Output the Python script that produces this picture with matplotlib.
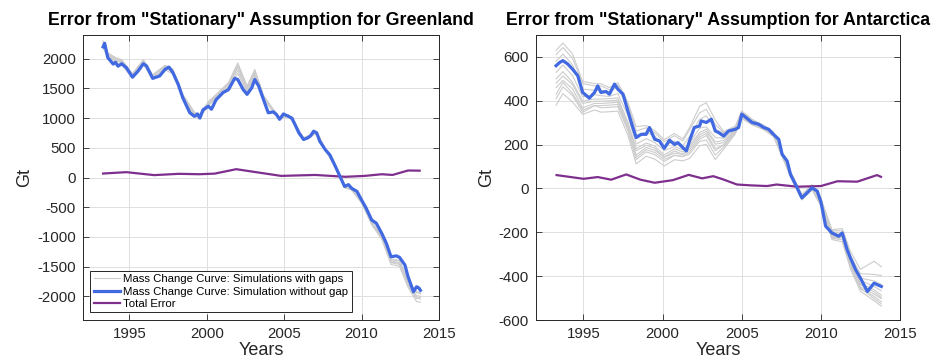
import numpy as np
import matplotlib
matplotlib.use("Agg")
import matplotlib.pyplot as plt

plt.rcParams['font.family'] = ['Liberation Sans', 'DejaVu Sans']
plt.rcParams['axes.unicode_minus'] = False

# ---------------- Greenland ----------------
gl_years = [1993.30, 1993.40, 1993.60, 1993.95, 1994.10, 1994.26, 1994.50, 1994.80,
            1995.20, 1995.55, 1995.90, 1996.10, 1996.50, 1996.95, 1997.30, 1997.55,
            1997.80, 1998.15, 1998.45, 1998.90, 1999.20, 1999.40, 1999.55, 1999.75,
            2000.10, 2000.30, 2000.60, 2001.05, 2001.40, 2001.80, 2002.00, 2002.35,
            2002.60, 2002.90, 2003.10, 2003.35, 2003.65, 2003.97, 2004.30, 2004.50,
            2004.70, 2004.95, 2005.27, 2005.50, 2005.70, 2005.95, 2006.25, 2006.50,
            2006.70, 2006.90, 2007.10, 2007.30, 2007.65, 2007.95, 2008.30, 2008.60,
            2008.90, 2009.15, 2009.35, 2009.70, 2010.00, 2010.30, 2010.65, 2010.95,
            2011.30, 2011.60, 2011.90, 2012.25, 2012.45, 2012.80, 2013.00, 2013.35,
            2013.55, 2013.70, 2013.80]
gl_mass = [2200, 2260, 2020, 1910, 1940, 1875, 1915, 1850,
           1690, 1790, 1915, 1880, 1670, 1710, 1820, 1860,
           1770, 1570, 1340, 1090, 1030, 1070, 1000, 1140,
           1200, 1150, 1310, 1430, 1480, 1670, 1650, 1480,
           1400, 1510, 1650, 1540, 1320, 1090, 1105, 1060,
           980, 1070, 1030, 1000, 890, 750, 640, 665,
           700, 780, 750, 610, 470, 380, 190, 20,
           -150, -120, -180, -235, -380, -520, -715, -770,
           -940, -1110, -1335, -1320, -1345, -1475, -1670, -1925,
           -1840, -1860, -1900]
# deviations of the gap simulations, read at every second point of the curve
gl_sim_dev = [
    [80, 60, 70, 60, 50, 60, 50, 60, 50, 40, 50, 40, 60, 70, 100, 250, 120, 150, 60, 30, 30, 20, 20, 20, 20, 10, 10, 0, -20, -20, -40, -60, -80, -100, -120, -150, -200, -120],
    [40, 40, 40, 30, 30, 40, 30, 40, 30, 30, 30, 30, 40, 50, 80, 200, 90, 110, 50, 20, 20, 20, 10, 10, 10, 10, 0, 0, -10, -20, -30, -40, -60, -70, -90, -120, -150, -100],
    [20, 20, 20, 20, 10, 20, 10, 20, 10, 20, 20, 20, 20, 30, 50, 150, 60, 80, 30, 10, 10, 10, 0, 10, 0, 0, 0, -10, -10, -10, -20, -30, -40, -50, -60, -80, -100, -60],
    [100, 80, 80, 70, 60, 70, 60, 70, 60, 60, 70, 60, 80, 90, 120, 280, 140, 170, 70, 40, 30, 30, 20, 30, 20, 20, 10, 10, -10, -30, -50, -80, -100, -130, -150, -180, -250, -200],
    [-20, -10, -10, -20, -20, -10, -20, -10, -20, -10, 0, 0, 10, 20, 30, 100, 40, 50, 10, 0, 0, 0, -10, 0, -10, -10, -10, -10, -20, -20, -20, -30, -40, -40, -50, -60, -80, -50],
    [60, 50, 50, 50, 40, 50, 40, 50, 40, 50, 40, 50, 50, 60, 90, 220, 100, 130, 40, 20, 20, 10, 10, 10, 10, 0, 0, 0, -20, -30, -40, -50, -70, -90, -100, -140, -180, -150],
]
gl_err_years = [1993.3, 1994.8, 1996.6, 1998.2, 1999.5, 2000.5, 2001.9, 2003.1, 2004.8,
                2007.0, 2008.95, 2010.2, 2011.3, 2012.0, 2013.0, 2013.75]
gl_err = [67, 90, 40, 62, 55, 65, 140, 93, 27, 43, 12, 27, 55, 43, 118, 115]

# ---------------- Antarctica ----------------
an_years = [1993.27, 1993.50, 1993.70, 1994.00, 1994.30, 1994.64, 1994.95, 1995.37,
            1995.70, 1995.90, 1996.10, 1996.43, 1996.64, 1996.96, 1997.17, 1997.50,
            1997.80, 1998.12, 1998.33, 1998.65, 1998.96, 1999.17, 1999.50, 1999.80,
            2000.10, 2000.44, 2000.75, 2000.97, 2001.28, 2001.50, 2001.70, 2002.00,
            2002.34, 2002.44, 2002.76, 2003.08, 2003.33, 2003.54, 2003.86, 2004.17,
            2004.60, 2004.80, 2005.00, 2005.33, 2005.65, 2006.07, 2006.39, 2006.70,
            2007.00, 2007.34, 2007.55, 2007.87, 2008.08, 2008.40, 2008.80, 2009.13,
            2009.44, 2009.77, 2010.00, 2010.30, 2010.70, 2011.13, 2011.35, 2011.66,
            2011.87, 2012.20, 2012.50, 2012.94, 2013.36, 2013.60, 2013.82]
an_mass = [560, 575, 583, 568, 545, 514, 438, 412,
           438, 468, 438, 442, 430, 476, 453, 430,
           354, 278, 232, 247, 247, 278, 224, 217,
           183, 220, 201, 209, 186, 171, 217, 278,
           285, 308, 301, 316, 262, 255, 239, 262,
           270, 278, 339, 320, 301, 293, 278, 270,
           247, 224, 156, 125, 64, 18, -43, -20,
           3, -12, -60, -172, -203, -218, -203, -279,
           -317, -371, -409, -470, -432, -440, -447]
an_sim_dev = [
    [-180, -150, -150, -100, -80, -90, -80, -100, -110, -120, -100, -90, -80, -70, -60, -80, -90, -100, -130, -60, -20, -20, -10, -10, -10, -10, -10, -10, -10, -20, -30, -40, -50, -60, -80, -90],
    [-150, -120, -120, -90, -60, -70, -60, -80, -90, -100, -80, -70, -60, -50, -40, -60, -70, -80, -110, -50, -15, -15, -10, -5, -5, -5, -10, -5, -5, -15, -25, -30, -40, -50, -60, -70],
    [-100, -90, -90, -70, -50, -50, -40, -60, -70, -80, -60, -50, -40, -40, -30, -40, -50, -50, -80, -40, -10, -10, -5, -5, 0, 0, -5, 0, 0, -10, -20, -20, -30, -40, -50, -55],
    [-60, -50, -60, -40, -30, -30, -20, -40, -50, -50, -40, -30, -30, -20, -20, -20, -30, -30, -50, -20, -5, -5, 0, 0, 0, 0, 0, 0, 0, -5, -10, -15, -20, -25, -30, -40],
    [-30, -20, -30, -20, -10, -15, -10, -20, -20, -30, -20, -15, -10, -10, -10, -10, -10, -20, -30, -10, 0, 0, 0, 0, 5, 0, 0, 5, 0, 0, -5, -5, -10, -10, -15, -20],
    [20, 30, 20, 15, 10, 10, 10, 10, 10, 10, 10, 15, 10, 15, 10, 20, 30, 30, 10, 10, 5, 5, 5, 5, 5, 5, 5, 5, 5, 5, 5, 0, 0, 0, 10, 10],
    [50, 60, 50, 40, 30, 30, 20, 20, 30, 30, 30, 30, 30, 40, 30, 50, 60, 60, 30, 15, 10, 10, 10, 10, 10, 10, 10, 10, 10, 10, 10, 10, 10, 20, 40, 50],
    [70, 80, 70, 50, 40, 40, 30, 30, 40, 50, 40, 40, 40, 50, 40, 60, 90, 90, 50, 20, 15, 15, 15, 10, 10, 10, 15, 15, 15, 15, 15, 20, 30, 40, 100, 90],
    [-130, -100, -110, -80, -60, -60, -50, -70, -80, -90, -70, -60, -50, -50, -40, -50, -60, -60, -90, -40, -10, -10, -10, -5, -5, -5, -5, -5, -5, -10, -20, -30, -35, -45, -70, -80],
    [-80, -70, -70, -50, -40, -40, -30, -50, -60, -60, -50, -40, -40, -30, -30, -30, -40, -40, -60, -30, -5, -5, -5, 0, 0, 0, 0, 0, 0, -5, -15, -20, -25, -30, -40, -50],
]
an_err_years = [1993.3, 1995.0, 1995.9, 1996.75, 1997.7, 1998.6, 1999.5, 2000.65, 2001.65,
                2002.5, 2003.2, 2003.8, 2004.7, 2005.6, 2006.6, 2007.2, 2008.5, 2010.0,
                2011.05, 2012.3, 2013.55, 2013.8]
an_err = [61, 44, 52, 40, 64, 40, 26, 38, 62, 46, 56, 42, 18, 14, 11, 18, 8, 11, 33, 31, 61, 53]

titles = ['Error from "Stationary" Assumption for Greenland',
          'Error from "Stationary" Assumption for Antarctica']
legend_labels = ['Mass Change Curve: Simulations with gaps',
                 'Mass Change Curve: Simulation without gap',
                 'Total Error']

GRAY = (0.8, 0.8, 0.8)
BLUE = '#4169E1'
PURPLE = '#7E2F8E'
TXT = '#262626'

W, H = 936, 360
fig = plt.figure(figsize=(W / 100, H / 100), dpi=100)
ax1 = fig.add_axes([83 / W, 40 / H, 356 / W, 285 / H])
ax2 = fig.add_axes([536 / W, 40 / H, 364 / W, 285 / H])


def draw(ax, yrs, mass, devs, eyrs, err, title, ylim, yticks):
    yrs = np.array(yrs)
    mass = np.array(mass, dtype=float)
    hs = None
    for d in devs:
        h, = ax.plot(yrs[::2], mass[::2] + np.array(d), color=GRAY, lw=0.8, zorder=2)
        hs = h
    hp, = ax.plot(eyrs, err, color=PURPLE, lw=1.6, zorder=3)
    hb, = ax.plot(yrs, mass, color=BLUE, lw=2.3, zorder=4)
    ax.set_xlim(1992, 2015)
    ax.set_ylim(*ylim)
    ax.set_xticks([1995, 2000, 2005, 2010, 2015])
    ax.set_yticks(yticks)
    ax.grid(True, color='#dfdfdf', lw=0.7, zorder=0)
    ax.set_axisbelow(True)
    ax.tick_params(direction='in', top=True, right=True, length=4, width=0.6,
                   labelsize=10.8, colors=TXT, pad=5)
    for s in ax.spines.values():
        s.set_linewidth(0.7)
        s.set_color(TXT)
    ax.set_xlabel('Years', fontsize=13, color=TXT, labelpad=1)
    ax.set_ylabel('Gt', fontsize=13, color=TXT, labelpad=3)
    ax.set_title(title, fontsize=12.8, fontweight='bold', pad=7)
    return hs, hb, hp


hs, hb, hp = draw(ax1, gl_years, gl_mass, gl_sim_dev, gl_err_years, gl_err, titles[0],
                  (-2400, 2400), [-2000, -1500, -1000, -500, 0, 500, 1000, 1500, 2000])
draw(ax2, an_years, an_mass, an_sim_dev, an_err_years, an_err, titles[1],
     (-600, 700), [-600, -400, -200, 0, 200, 400, 600])

leg = ax1.legend([hs, hb, hp], legend_labels, loc='lower left',
                 bbox_to_anchor=(0.02, 0.027), borderaxespad=0, fontsize=8.2,
                 fancybox=False, framealpha=1, edgecolor=TXT, handlelength=2.3,
                 handletextpad=0.3, labelspacing=0.2, borderpad=0.3)
leg.get_frame().set_linewidth(0.7)

fig.savefig('out.png', dpi=100)
